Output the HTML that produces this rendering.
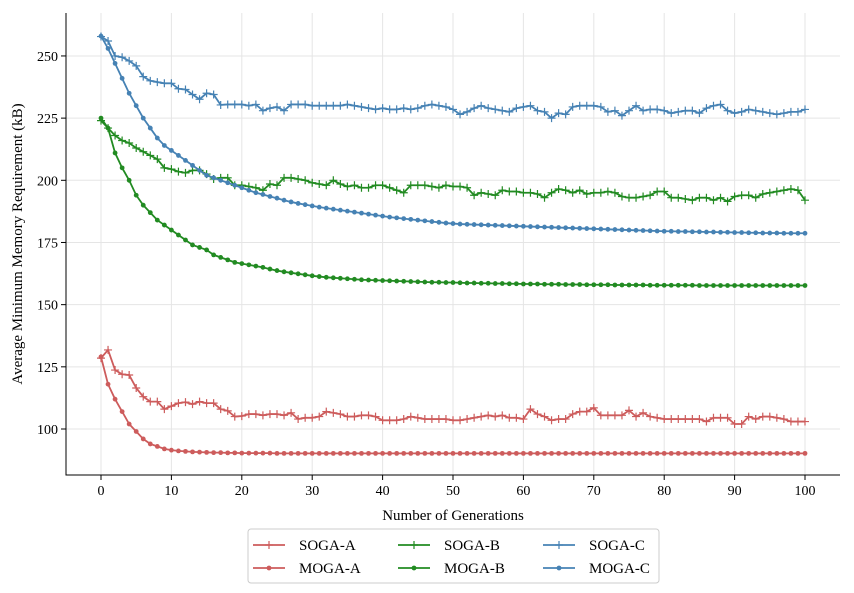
<!DOCTYPE html>
<html><head><meta charset="utf-8"><style>
body{margin:0;background:#fff}
svg{display:block;font-family:"Liberation Serif","DejaVu Serif",serif}
</style></head><body>
<svg id="chart" width="854" height="593"></svg>
<script>
const xTicks=[0,10,20,30,40,50,60,70,80,90,100];
const yTicks=[100,125,150,175,200,225,250];
const sogaA=[128.5,131.8,123.7,122,121.7,116.5,113,111,111,108,
109.2,110.4,110.8,110,111,110.4,110.4,108,107.3,105,
105.2,106,106,105.5,106,106,105.5,106.5,104,104.5,
104.5,105,107,106.5,106,105,105,105.5,105.5,105,
103.5,103.5,103.5,104,105,104.5,104,104,104,104,
103.5,103.5,104,104.5,105,105.5,105,105.5,104.5,104.5,
104,108,106,105,103.5,104,104,106,107,107,
108.5,105.5,105.5,105.5,105.5,107.5,105,106.5,105,104.5,
104,104,104,104,104,104,103,104.5,104.5,104.5,
102,102,105,104,105,105,104.5,104,103,103,
103];
const mogaA=[129,118,112,107,102,99,96,94,93,92,
91.5,91.2,91,90.8,90.7,90.6,90.5,90.5,90.4,90.4,
90.3,90.3,90.3,90.3,90.3,90.2,90.2,90.2,90.2,90.2,
90.2,90.2,90.2,90.2,90.2,90.2,90.2,90.2,90.2,90.2,
90.2,90.2,90.2,90.2,90.2,90.2,90.2,90.2,90.2,90.2,
90.2,90.2,90.2,90.2,90.2,90.2,90.2,90.2,90.2,90.2,
90.2,90.2,90.2,90.2,90.2,90.2,90.2,90.2,90.2,90.2,
90.2,90.2,90.2,90.2,90.2,90.2,90.2,90.2,90.2,90.2,
90.2,90.2,90.2,90.2,90.2,90.2,90.2,90.2,90.2,90.2,
90.2,90.2,90.2,90.2,90.2,90.2,90.2,90.2,90.2,90.2,
90.2];
const sogaB=[224,221,218,216,215,213,211.5,210,208.5,205,
204.5,203.5,203,204,204,202.5,200.5,201,201,198,
198,197.5,197,196,198.5,198,201,201,200.5,200,
199,198.5,198,200,198.5,197.5,198,197,197,198,
198,197,196,195,198,198,198,197.5,197,198,
197.5,197.5,197,194,195,194.5,194,196,195.5,195.5,
195,195,194.5,193,195,196.5,196,195,196,194.5,
195,195,195.5,195,193.5,193,193,193.5,194,195.5,
195.5,193,193,192.5,192,193,193,192,193,191.5,
193.5,194,194,193,194.5,195,195.5,196,196.5,196,
192];
const mogaB=[225,221,211,205,200,194,190,187,184,182,
180,178,176,174,173,172,170,169,168,167,
166.5,166,165.5,165,164.3,163.7,163.2,162.8,162.4,162,
161.6,161.3,161,160.8,160.6,160.4,160.2,160,159.9,159.8,
159.7,159.6,159.5,159.4,159.3,159.2,159.1,159,159,158.9,
158.9,158.8,158.7,158.7,158.6,158.6,158.5,158.5,158.4,158.4,
158.3,158.3,158.3,158.2,158.2,158.2,158.1,158.1,158.1,158,
158,158,158,157.9,157.9,157.9,157.9,157.9,157.8,157.8,
157.8,157.8,157.8,157.8,157.8,157.7,157.7,157.7,157.7,157.7,
157.7,157.7,157.7,157.7,157.7,157.7,157.7,157.7,157.7,157.7,
157.7];
const sogaC=[257.8,256,250,249.5,248,246,241.7,240,239.5,239,
239,236.8,236.5,234.5,232.6,235,234.5,230.3,230.5,230.5,
230.5,230,230.5,228,229,229.5,228,230.5,230.5,230.5,
230,230,230,230,230,230.5,230,229.5,229,228.5,
229,228.5,228.5,229,228.5,229,230,230.5,230,229.5,
228.5,226.5,227.5,229,230,229,228.5,228,227.5,229,
229.5,230,228,227.5,225,227,226.5,229.5,230,230,
230,229.5,227.5,228,226,228,230,228,228.5,228.5,
228,227,227.5,228,228,227,229,230,230.5,228,
227,227.5,228.5,228,227.5,227,226.5,227,227.5,227.5,
228.5];
const mogaC=[258,253,247,241,235,230,225,221,217,214,
212,210,208,206,204,202,201,200,199,198,
197,196,195,194.3,193.5,192.8,192,191.3,190.7,190.2,
189.7,189.2,188.8,188.4,188,187.6,187.2,186.8,186.4,186,
185.6,185.2,184.9,184.6,184.3,184,183.7,183.4,183.1,182.8,
182.6,182.4,182.3,182.2,182.1,182,181.9,181.8,181.7,181.6,
181.5,181.4,181.3,181.2,181.1,181,180.9,180.8,180.7,180.6,
180.5,180.4,180.3,180.2,180.1,180,179.9,179.8,179.7,179.6,
179.5,179.5,179.4,179.4,179.3,179.3,179.2,179.2,179.1,179.1,
179,179,178.9,178.9,178.8,178.8,178.8,178.7,178.7,178.7,
178.7];
const seriesNames=["SOGA-A","MOGA-A","SOGA-B","MOGA-B","SOGA-C","MOGA-C"];
const seriesData=[sogaA,mogaA,sogaB,mogaB,sogaC,mogaC];
const seriesColors=["#cd5c5c","#cd5c5c","#228b22","#228b22","#4682b4","#4682b4"];

const NS="http://www.w3.org/2000/svg";
const svg=document.getElementById('chart');
const L=66,R=840,T=13,B=475;
const xs=v=>101+v*7.04;
const ys=v=>429-(v-100)*2.487;
function mk(tag,attrs,parent){const e=document.createElementNS(NS,tag);for(const k in attrs)e.setAttribute(k,attrs[k]);(parent||svg).appendChild(e);return e;}

xTicks.forEach(t=>{const g=mk('line',{x1:xs(t),x2:xs(t),y1:T,y2:B,stroke:'#e5e5e5','stroke-width':1});

});
yTicks.forEach(t=>{const g=mk('line',{x1:L,x2:R,y1:ys(t),y2:ys(t),stroke:'#e5e5e5','stroke-width':1});

});

seriesData.forEach((d,si)=>{
  const grp=mk('g',{});
  
  
  const c=seriesColors[si];
  mk('polyline',{points:d.map((v,i)=>xs(i)+','+ys(v)).join(' '),fill:'none',stroke:c,'stroke-width':1.8},grp);
  d.forEach((v,i)=>{
    let m;
    if(si%2===0){m=mk('path',{d:`M${xs(i)-4},${ys(v)}h8M${xs(i)},${ys(v)-4}v8`,stroke:c,'stroke-width':1.2},grp);}
    else{m=mk('circle',{cx:xs(i),cy:ys(v),r:2.4,fill:c},grp);}
    
    
  });
});

const ax=mk('path',{d:`M${L},${T}V${B}H${R}`,fill:'none',stroke:'#000','stroke-width':1});


xTicks.forEach(t=>{
  mk('line',{x1:xs(t),x2:xs(t),y1:B,y2:B+5,stroke:'#000'});
  const tx=mk('text',{x:xs(t),y:B+20,'text-anchor':'middle','font-size':14});tx.textContent=t;
  
  
});
yTicks.forEach(t=>{
  mk('line',{x1:L-5,x2:L,y1:ys(t),y2:ys(t),stroke:'#000'});
  const tx=mk('text',{x:L-8,y:ys(t)+5,'text-anchor':'end','font-size':14});tx.textContent=t;
  
  
});
const xt=mk('text',{x:453,y:520,'text-anchor':'middle','font-size':15});xt.textContent='Number of Generations';


const yt=mk('text',{x:0,y:0,'text-anchor':'middle','font-size':15,transform:'translate(22,244) rotate(-90)'});yt.textContent='Average Minimum Memory Requirement (kB)';



const lg=mk('g',{});


mk('rect',{x:248,y:529,width:411,height:54,rx:3,fill:'#fff',stroke:'#ccc'},lg);
seriesNames.forEach((n,si)=>{
  const col=Math.floor(si/2),row=si%2;
  const x0=253+col*145,y0=545+row*23;
  const e=mk('g',{},lg);
  
  
  const c=seriesColors[si];
  mk('line',{x1:x0,x2:x0+32,y1:y0,y2:y0,stroke:c,'stroke-width':1.8},e);
  if(row===0)mk('path',{d:`M${x0+12},${y0}h8M${x0+16},${y0-4}v8`,stroke:c,'stroke-width':1.2},e);
  else mk('circle',{cx:x0+16,cy:y0,r:2.4,fill:c},e);
  const t=mk('text',{x:x0+46,y:y0+5,'font-size':15},e);t.textContent=n;
});
</script>
</body></html>
